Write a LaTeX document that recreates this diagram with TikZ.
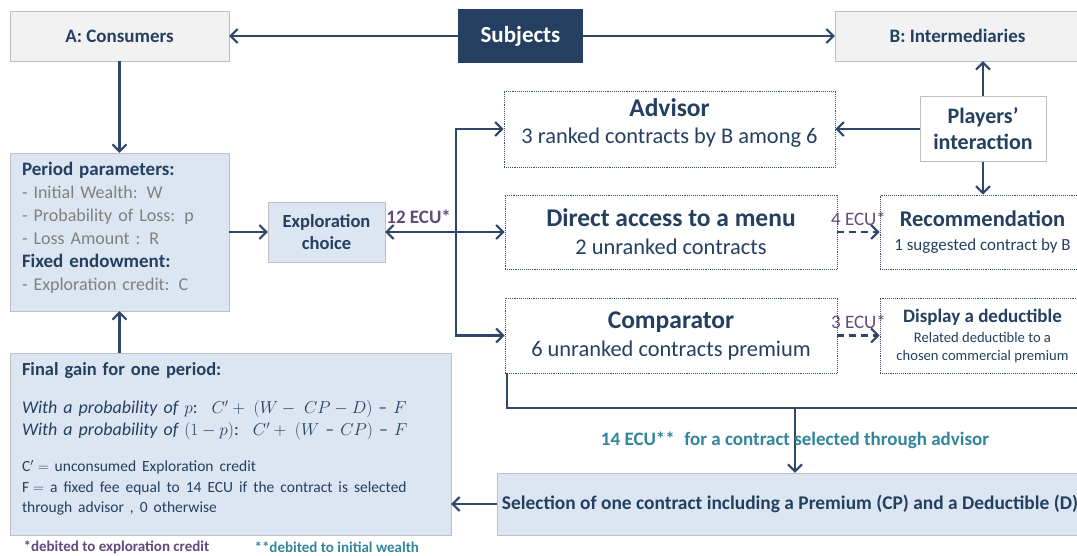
\documentclass[tikz,border=0pt]{standalone}
\usepackage{fontspec}
\setmainfont{Carlito}
\usetikzlibrary{arrows.meta,positioning}
\definecolor{navy}{HTML}{243F60}
\definecolor{linecol}{HTML}{2E4668}
\definecolor{lightblue}{HTML}{DCE6F2}
\definecolor{lightgray}{HTML}{F2F2F2}
\definecolor{boxedge}{HTML}{BFBFBF}
\definecolor{dotedge}{HTML}{3F4F63}
\definecolor{ecupurple}{HTML}{604A7B}
\definecolor{ecuteal}{HTML}{31859C}
\definecolor{paramgray}{HTML}{808080}

\begin{document}
\begin{tikzpicture}[x=1pt,y=-1pt,>={Straight Barb[length=7pt,width=14pt]},
  every node/.style={text=navy},
  player/.style={draw=boxedge,fill=lightgray,font=\bfseries\fontsize{19}{22}\selectfont,minimum height=50pt},
  info/.style={draw=boxedge,fill=lightblue},
  channel/.style={draw=dotedge,densely dotted,line width=0.9pt,align=center},
  link/.style={color=linecol,line width=2.1pt},
  ecu/.style={text=ecupurple,font=\fontsize{19}{22}\selectfont}]
\useasboundingbox (0,0) rectangle (1077,555);

\node[player,minimum width=219pt] (cons) at (119.5,36) {A: Consumers};
\node[fill=navy,text=white,font=\bfseries\fontsize{23}{26}\selectfont,minimum width=125pt,minimum height=54pt] (subj) at (520.5,36) {Subjects};
\node[player,minimum width=245pt] (inter) at (957.5,36) {B: Intermediaries};

\node[info,text width=195pt,inner xsep=12pt,minimum height=158pt,align=left,font=\fontsize{18}{23}\selectfont] (param) at (119.5,232) {%
  {\bfseries\fontsize{19}{23}\selectfont Period parameters:}\\
  \textcolor{paramgray}{- Initial Wealth: W}\\
  \textcolor{paramgray}{- Probability of Loss: p}\\
  \textcolor{paramgray}{- Loss Amount : R}\\
  {\bfseries\fontsize{19}{23}\selectfont Fixed endowment:}\\
  \textcolor{paramgray}{- Exploration credit: C}\\[-12pt]\mbox{}};
\node[info,minimum width=117pt,minimum height=60pt,align=center,font=\bfseries\fontsize{18.5}{22}\selectfont] (explo) at (326.5,232) {Exploration\\choice};

\node[info,text width=417pt,inner xsep=12pt,minimum height=182pt,align=left,font=\fontsize{18}{22}\selectfont] (gain) at (230.5,444) {%
  {\bfseries\fontsize{18.5}{22}\selectfont Final gain for one period:}\\[16pt]
  {\itshape With a probability of} $p$:\; $C' + \;(W -\; CP - D)$ -- $F$\\
  {\itshape With a probability of} $(1-p)$:\; $C' + \;(W$ -- $CP)$ -- $F$\\[14pt]
  {\fontsize{15.5}{20.5}\selectfont $\mathrm{C}' =$ unconsumed Exploration credit}\\[-1.5pt]
  {\fontsize{15.5}{20.5}\selectfont $\mathrm{F} =$ a fixed fee equal to 14 ECU if the contract is selected}\\[-1.5pt]
  {\fontsize{15.5}{20.5}\selectfont through advisor , 0 otherwise}\\[-10pt]\mbox{}};

\node[channel,minimum width=331pt,minimum height=76pt,text depth=16pt,font=\fontsize{22.4}{27}\selectfont] (adv) at (669.5,129) {{\bfseries\fontsize{25.5}{27}\selectfont Advisor}\\3 ranked contracts by B among 6};
\node[channel,minimum width=332pt,minimum height=74pt,font=\fontsize{22.4}{28}\selectfont] (menu) at (671,232) {{\bfseries\fontsize{25.5}{28}\selectfont Direct access to a menu}\\2 unranked contracts};
\node[channel,minimum width=332pt,minimum height=75pt,font=\fontsize{22.4}{28}\selectfont] (comp) at (671,335.5) {{\bfseries\fontsize{25.5}{28}\selectfont Comparator}\\6 unranked contracts premium};

\node[draw=boxedge,fill=white,align=center,font=\bfseries\fontsize{22}{26}\selectfont,minimum width=126pt,minimum height=65pt] (play) at (983,129) {Players'\\interaction};
\node[channel,minimum width=205pt,minimum height=74pt,font=\fontsize{17}{24}\selectfont] (recom) at (982.5,232) {{\bfseries\fontsize{22.5}{24}\selectfont Recommendation}\\1 suggested contract by B};
\node[channel,minimum width=205pt,minimum height=75pt,font=\fontsize{14.6}{17.5}\selectfont] (deduct) at (982.5,335.5) {{\bfseries\fontsize{19}{21}\selectfont Display a deductible}\\[3pt]Related deductible to a\\chosen commercial premium};

\node[info,minimum width=586pt,minimum height=62pt,font=\bfseries\fontsize{19.4}{22}\selectfont] (select) at (790,504) {Selection of one contract including a Premium (CP) and a Deductible (D)};

\coordinate (fork) at (456,232);
\coordinate (collect) at (795,408);

\path[link,->] (subj) edge (cons)
               (subj) edge (inter)
               (cons) edge (param)
               (param) edge (explo)
               (play) edge (adv)
               (play.north) edge (play.north |- inter.south)
               (play.south) edge (play.south |- recom.north)
               (select.west) edge (select.west -| gain.east)
               (gain.north -| param) edge (param.south);
\draw[link,<->] (explo) -- (menu) node[ecu,font=\bfseries\fontsize{19}{22}\selectfont,pos=0.28,above=4pt] {12 ECU*};
\draw[link,->] (fork) |- (adv);
\draw[link,->] (fork) |- (comp);
\draw[link,->,dash pattern=on 7pt off 5pt] (menu) -- (recom) node[ecu,midway,above=2pt] {4 ECU*};
\draw[link,->,dash pattern=on 7pt off 5pt] (comp) -- (deduct) node[ecu,midway,above=2pt] {3 ECU*};
\draw[link] ([xshift=2pt]comp.south west) |- (collect) -- (1090,408);
\draw[link,->] (collect) -- (collect |- select.north) node[midway,text=ecuteal,font=\bfseries\fontsize{19}{22}\selectfont] {14 ECU**\; for a contract selected through advisor};

\node[anchor=west,text=ecupurple,font=\bfseries\fontsize{15}{17}\selectfont] (note1) at (20,547) {*debited to exploration credit};
\node[anchor=west,text=ecuteal,font=\bfseries\fontsize{15}{17}\selectfont] (note2) at (251,547) {**debited to initial wealth};
\end{tikzpicture}
\end{document}
